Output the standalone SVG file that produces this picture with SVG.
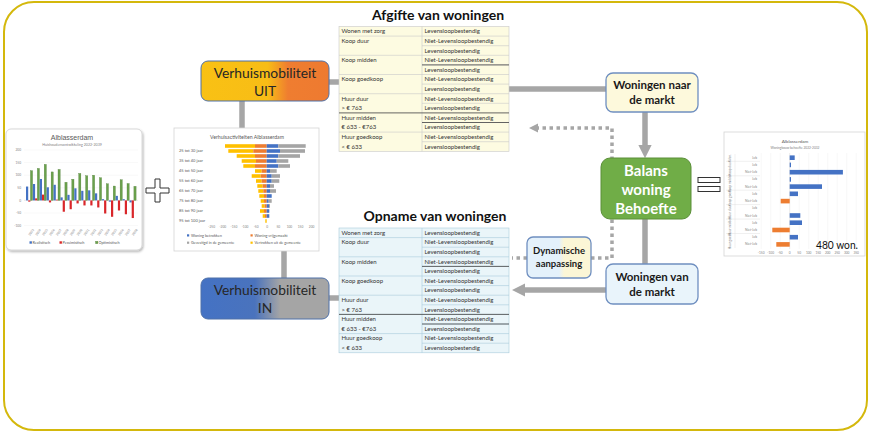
<svg xmlns="http://www.w3.org/2000/svg" width="872" height="434" viewBox="0 0 872 434">
<defs>
<style>
.t{font-family:Lato,"Open Sans","Liberation Sans",sans-serif}
.tb{font-family:Lato,"Open Sans","Liberation Sans",sans-serif;font-weight:bold}
.cell{font-family:Lato,"Open Sans","Liberation Sans",sans-serif;font-size:6px;fill:#333}
.conn{stroke:#a6a6a6;stroke-width:5.5;fill:none}
.dot{stroke:#a6a6a6;stroke-width:3.5;fill:none;stroke-dasharray:3.5 3.5}
.gl{stroke:#c9c9c9;stroke-width:0.6}
.glb{stroke:#a8cbdb;stroke-width:0.6}
.dk{stroke:#555;stroke-width:0.9}
.ax{font-family:Lato,"Liberation Sans",sans-serif;font-size:3.2px;fill:#7f7f7f}
.lg{font-family:Lato,"Liberation Sans",sans-serif;font-size:3.8px;fill:#595959}
.bB{fill:#4472c4}.bR{fill:#d9262a}.bG{fill:#6aa14c;stroke:#4e7a36;stroke-width:0.3}
.bO{fill:#ed7d31}.bY{fill:#ffc000}.bS{fill:#a5a5a5}
.frame{fill:#fff;stroke:#d4d4d4;stroke-width:0.8}
.node{stroke:#6f8fc0;stroke-width:1.3}
</style>
<linearGradient id="gUit" x1="0" y1="0" x2="1" y2="0">
<stop offset="0" stop-color="#f9c114"/><stop offset="0.52" stop-color="#f8bd16"/><stop offset="0.68" stop-color="#ef7d30"/><stop offset="1" stop-color="#ee7a30"/>
</linearGradient>
<linearGradient id="gIn" x1="0" y1="0" x2="1" y2="0">
<stop offset="0" stop-color="#4472c4"/><stop offset="0.42" stop-color="#4a73bd"/><stop offset="0.62" stop-color="#a5a5a5"/><stop offset="1" stop-color="#a5a5a5"/>
</linearGradient>
<linearGradient id="gDyn" x1="0" y1="0" x2="1" y2="0">
<stop offset="0" stop-color="#e4f1fb"/><stop offset="0.5" stop-color="#e4f1fb"/><stop offset="0.58" stop-color="#fbf6d6"/><stop offset="1" stop-color="#fbf6d6"/>
</linearGradient>
<marker id="ah" viewBox="0 0 10 10" refX="0" refY="5" markerWidth="2.4" markerHeight="2.6" orient="auto">
<path d="M0,0 L10,5 L0,10 z" fill="#a6a6a6"/>
</marker>
<marker id="ahs" viewBox="0 0 10 10" refX="0" refY="5" markerWidth="2.6" markerHeight="3" orient="auto">
<path d="M0,0 L10,5 L0,10 z" fill="#a6a6a6"/>
</marker>
<filter id="sh" x="-10%" y="-10%" width="120%" height="120%">
<feDropShadow dx="1" dy="1.5" stdDeviation="1.2" flood-color="#000" flood-opacity="0.3"/>
</filter>
</defs>

<rect x="4" y="2" width="863" height="428" rx="30" fill="#fff" stroke="#d4b80c" stroke-width="2"/>

<g id="connectors">
<line class="conn" x1="329" y1="82" x2="349" y2="82" marker-end="url(#ah)"/>
<line class="conn" x1="242" y1="101" x2="242" y2="128"/>
<line class="conn" x1="284" y1="251" x2="284" y2="278"/>
<line class="conn" x1="329" y1="298" x2="349" y2="298" marker-end="url(#ah)"/>
<line class="conn" x1="508" y1="89" x2="606" y2="89"/>
<line class="conn" x1="645" y1="112" x2="645" y2="145" marker-end="url(#ah)"/>
<line class="conn" x1="645" y1="219" x2="645" y2="264"/>
<line class="conn" x1="606" y1="290" x2="525" y2="290" marker-end="url(#ah)"/>
<path class="dot" d="M591,258 L612,258 L612,128 L538,128" marker-end="url(#ahs)"/>
<path class="dot" d="M527,258 L512,258"/>
</g>

<g id="chart-huishoudens">
<rect x="6" y="129" width="136" height="121" rx="5" fill="#fff" stroke="#cfcfcf" stroke-width="0.8" filter="url(#sh)"/>
<text x="72" y="139.5" font-family="'Liberation Sans',Arial,sans-serif" font-size="7" fill="#595959" text-anchor="middle">Alblasserdam</text>
<text class="t" x="72" y="145.5" font-size="3.6" fill="#7f7f7f" text-anchor="middle">Huishoudensontwikkeling 2022-2039</text>
<g stroke="#eeeeee" stroke-width="0.4">
<line x1="24" y1="150" x2="138" y2="150"/><line x1="24" y1="162.6" x2="138" y2="162.6"/><line x1="24" y1="175.2" x2="138" y2="175.2"/><line x1="24" y1="187.8" x2="138" y2="187.8"/><line x1="24" y1="213" x2="138" y2="213"/><line x1="24" y1="225.6" x2="138" y2="225.6"/>
</g>
<line x1="24" y1="200.4" x2="138" y2="200.4" stroke="#d0d0d0" stroke-width="0.4"/>
<g class="ax" text-anchor="end">
<text x="21" y="151.2">200</text><text x="21" y="163.8">150</text><text x="21" y="176.4">100</text><text x="21" y="189">50</text><text x="21" y="201.6">0</text><text x="21" y="214.2">-50</text><text x="21" y="226.8">-100</text>
</g>
<g>
<rect class="bB" x="26" y="186.54" width="2.2" height="13.86"/><rect class="bR" x="28.2" y="200.4" width="2.2" height="1.26"/><rect class="bG" x="30.4" y="170.66" width="2.2" height="29.74"/>
<rect class="bB" x="32.9" y="184.02" width="2.2" height="16.38"/><rect class="bR" x="35.1" y="198.38" width="2.2" height="2.02"/><rect class="bG" x="37.3" y="168.4" width="2.2" height="32"/>
<rect class="bB" x="39.8" y="178.98" width="2.2" height="21.42"/><rect class="bR" x="42" y="194.6" width="2.2" height="5.8"/><rect class="bG" x="44.2" y="164.36" width="2.2" height="36.04"/>
<rect class="bB" x="46.7" y="187.3" width="2.2" height="13.1"/><rect class="bR" x="48.9" y="200.4" width="2.2" height="2.02"/><rect class="bG" x="51.1" y="171.92" width="2.2" height="28.48"/>
<rect class="bB" x="53.6" y="184.78" width="2.2" height="15.62"/><rect class="bR" x="55.8" y="199.64" width="2.2" height="0.76"/><rect class="bG" x="58" y="169.4" width="2.2" height="31"/>
<rect class="bB" x="60.5" y="197.38" width="2.2" height="3.02"/><rect class="bR" x="62.7" y="200.4" width="2.2" height="11.34"/><rect class="bG" x="64.9" y="182.26" width="2.2" height="18.14"/>
<rect class="bB" x="67.4" y="194.86" width="2.2" height="5.54"/><rect class="bR" x="69.6" y="200.4" width="2.2" height="8.82"/><rect class="bG" x="71.8" y="179.23" width="2.2" height="21.17"/>
<rect class="bB" x="74.3" y="188.3" width="2.2" height="12.1"/><rect class="bR" x="76.5" y="200.4" width="2.2" height="3.02"/><rect class="bG" x="78.7" y="173.44" width="2.2" height="26.96"/>
<rect class="bB" x="81.2" y="190.82" width="2.2" height="9.58"/><rect class="bR" x="83.4" y="200.4" width="2.2" height="5.04"/><rect class="bG" x="85.6" y="175.7" width="2.2" height="24.7"/>
<rect class="bB" x="88.1" y="190.32" width="2.2" height="10.08"/><rect class="bR" x="90.3" y="200.4" width="2.2" height="5.04"/><rect class="bG" x="92.5" y="175.2" width="2.2" height="25.2"/>
<rect class="bB" x="95" y="193.34" width="2.2" height="7.06"/><rect class="bR" x="97.2" y="200.4" width="2.2" height="7.06"/><rect class="bG" x="99.4" y="177.72" width="2.2" height="22.68"/>
<rect class="bB" x="101.9" y="199.14" width="2.2" height="1.26"/><rect class="bR" x="104.1" y="200.4" width="2.2" height="13.1"/><rect class="bG" x="106.3" y="183.77" width="2.2" height="16.63"/>
<rect class="bB" x="108.8" y="200.4" width="2.2" height="1.26"/><rect class="bR" x="111" y="200.4" width="2.2" height="16.38"/><rect class="bG" x="113.2" y="186.04" width="2.2" height="14.36"/>
<rect class="bB" x="115.7" y="195.86" width="2.2" height="4.54"/><rect class="bR" x="117.9" y="200.4" width="2.2" height="10.08"/><rect class="bG" x="120.1" y="179.74" width="2.2" height="20.66"/>
<rect class="bB" x="122.6" y="199.14" width="2.2" height="1.26"/><rect class="bR" x="124.8" y="200.4" width="2.2" height="13.86"/><rect class="bG" x="127" y="183.52" width="2.2" height="16.88"/>
<rect class="bB" x="129.5" y="200.4" width="2.2" height="2.02"/><rect class="bR" x="131.7" y="200.4" width="2.2" height="17.64"/><rect class="bG" x="133.9" y="186.29" width="2.2" height="14.11"/>
</g>
<g class="ax" font-size="2.8">
<text transform="translate(30,236) rotate(-55)">2023</text><text transform="translate(36.9,236) rotate(-55)">2024</text><text transform="translate(43.8,236) rotate(-55)">2025</text><text transform="translate(50.7,236) rotate(-55)">2026</text><text transform="translate(57.6,236) rotate(-55)">2027</text><text transform="translate(64.5,236) rotate(-55)">2028</text><text transform="translate(71.4,236) rotate(-55)">2029</text><text transform="translate(78.3,236) rotate(-55)">2030</text><text transform="translate(85.2,236) rotate(-55)">2031</text><text transform="translate(92.1,236) rotate(-55)">2032</text><text transform="translate(99,236) rotate(-55)">2033</text><text transform="translate(105.9,236) rotate(-55)">2034</text><text transform="translate(112.8,236) rotate(-55)">2035</text><text transform="translate(119.7,236) rotate(-55)">2036</text><text transform="translate(126.6,236) rotate(-55)">2037</text><text transform="translate(133.5,236) rotate(-55)">2038</text>
</g>
<rect class="bB" x="29.5" y="241.3" width="2.4" height="2.4"/><text class="lg" x="32.5" y="244">Realistisch</text>
<rect class="bR" x="59.5" y="241.3" width="2.4" height="2.4"/><text class="lg" x="62.5" y="244">Pessimistisch</text>
<rect class="bG" x="95.5" y="241.3" width="2.4" height="2.4"/><text class="lg" x="98.5" y="244">Optimistisch</text>
</g>

<g id="plus">
<path d="M155,179 h5 v9 h9 v5 h-9 v9 h-5 v-9 h-9 v-5 h9 z" fill="#fff" stroke="#333" stroke-width="1"/>
</g>

<g id="chart-verhuis">
<rect class="frame" x="174" y="128" width="145" height="123"/>
<text class="t" x="247" y="138.5" font-size="5.2" fill="#595959" text-anchor="middle">Verhuisactiviteiten Alblasserdam</text>
<g class="t" font-size="4" fill="#595959">
<text x="179" y="152.4">25 tot 30 jaar</text><text x="179" y="162.4">35 tot 40 jaar</text><text x="179" y="172.4">45 tot 50 jaar</text><text x="179" y="182.4">55 tot 60 jaar</text><text x="179" y="192.4">65 tot 70 jaar</text><text x="179" y="202.4">75 tot 80 jaar</text><text x="179" y="212.4">85 tot 90 jaar</text><text x="179" y="222.4">95 tot 100 jaar</text>
</g>
<g>
<rect class="bY" x="225" y="144.2" width="30" height="3.6"/><rect class="bO" x="255" y="144.2" width="11.7" height="3.6"/><rect class="bB" x="266.7" y="144.2" width="11.6" height="3.6"/><rect class="bS" x="278.3" y="144.2" width="27.4" height="3.6"/>
<rect class="bY" x="228.3" y="149.2" width="25" height="3.6"/><rect class="bO" x="253.3" y="149.2" width="13.4" height="3.6"/><rect class="bB" x="266.7" y="149.2" width="13.3" height="3.6"/><rect class="bS" x="280" y="149.2" width="25" height="3.6"/>
<rect class="bY" x="236.7" y="154.2" width="18.3" height="3.6"/><rect class="bO" x="255" y="154.2" width="11.7" height="3.6"/><rect class="bB" x="266.7" y="154.2" width="11.6" height="3.6"/><rect class="bS" x="278.3" y="154.2" width="21.7" height="3.6"/>
<rect class="bY" x="241.7" y="159.2" width="14.3" height="3.6"/><rect class="bO" x="256" y="159.2" width="10.7" height="3.6"/><rect class="bB" x="266.7" y="159.2" width="10" height="3.6"/><rect class="bS" x="276.7" y="159.2" width="11.6" height="3.6"/>
<rect class="bY" x="243.3" y="164.2" width="11.7" height="3.6"/><rect class="bO" x="255" y="164.2" width="11.7" height="3.6"/><rect class="bB" x="266.7" y="164.2" width="11.6" height="3.6"/><rect class="bS" x="278.3" y="164.2" width="11.7" height="3.6"/>
<rect class="bY" x="255" y="169.2" width="6.7" height="3.6"/><rect class="bO" x="261.7" y="169.2" width="5" height="3.6"/><rect class="bB" x="266.7" y="169.2" width="3.3" height="3.6"/><rect class="bS" x="270" y="169.2" width="6.7" height="3.6"/>
<rect class="bY" x="251.7" y="174.2" width="9" height="3.6"/><rect class="bO" x="260.7" y="174.2" width="6" height="3.6"/><rect class="bB" x="266.7" y="174.2" width="5" height="3.6"/><rect class="bS" x="271.7" y="174.2" width="8.3" height="3.6"/>
<rect class="bY" x="256" y="179.2" width="5.7" height="3.6"/><rect class="bO" x="261.7" y="179.2" width="5" height="3.6"/><rect class="bB" x="266.7" y="179.2" width="5" height="3.6"/><rect class="bS" x="271.7" y="179.2" width="7.6" height="3.6"/>
<rect class="bY" x="257.3" y="184.2" width="5.4" height="3.6"/><rect class="bO" x="262.7" y="184.2" width="4" height="3.6"/><rect class="bB" x="266.7" y="184.2" width="3.3" height="3.6"/><rect class="bS" x="270" y="184.2" width="4" height="3.6"/>
<rect class="bY" x="258.3" y="189.2" width="5" height="3.6"/><rect class="bO" x="263.3" y="189.2" width="3.4" height="3.6"/><rect class="bB" x="266.7" y="189.2" width="3.3" height="3.6"/><rect class="bS" x="270" y="189.2" width="6" height="3.6"/>
<rect class="bY" x="259.3" y="194.2" width="4.7" height="3.6"/><rect class="bO" x="264" y="194.2" width="2.7" height="3.6"/><rect class="bB" x="266.7" y="194.2" width="5" height="3.6"/>
<rect class="bY" x="260.7" y="199.2" width="3.3" height="3.6"/><rect class="bO" x="264" y="199.2" width="2.7" height="3.6"/><rect class="bB" x="266.7" y="199.2" width="2" height="3.6"/><rect class="bS" x="268.7" y="199.2" width="3" height="3.6"/>
<rect class="bY" x="261.7" y="204.2" width="3" height="3.6"/><rect class="bO" x="264.7" y="204.2" width="2" height="3.6"/><rect class="bB" x="266.7" y="204.2" width="2.3" height="3.6"/><rect class="bS" x="269" y="204.2" width="1" height="3.6"/>
<rect class="bY" x="260" y="209.2" width="4" height="3.6"/><rect class="bO" x="264" y="209.2" width="2.7" height="3.6"/><rect class="bB" x="266.7" y="209.2" width="2.6" height="3.6"/>
<rect class="bY" x="262.7" y="214.2" width="2.3" height="3.6"/><rect class="bO" x="265" y="214.2" width="1.7" height="3.6"/><rect class="bB" x="266.7" y="214.2" width="2.6" height="3.6"/>
<rect class="bY" x="265.3" y="219.2" width="1.4" height="3.6"/>
</g>
<g class="ax" font-size="2.9" text-anchor="middle">
<text x="211.7" y="228">-250</text><text x="222.8" y="228">-200</text><text x="233.9" y="228">-150</text><text x="245" y="228">-100</text><text x="256.1" y="228">-50</text><text x="267.2" y="228">0</text><text x="278.3" y="228">50</text><text x="289.4" y="228">100</text><text x="300.5" y="228">150</text><text x="311.6" y="228">200</text>
</g>
<rect class="bB" x="187" y="234.3" width="2.2" height="2.2"/><text class="lg" x="191" y="236.6" font-size="3.6">Woning betrokken</text>
<rect class="bO" x="250.5" y="234.3" width="2.2" height="2.2"/><text class="lg" x="254.5" y="236.6" font-size="3.6">Woning vrijgemaakt</text>
<rect class="bS" x="187" y="241.6" width="2.2" height="2.2"/><text class="lg" x="191" y="243.9" font-size="3.6">Gevestigd in de gemeente</text>
<rect class="bY" x="250.5" y="241.6" width="2.2" height="2.2"/><text class="lg" x="254.5" y="243.9" font-size="3.6">Vertrokken uit de gemeente</text>
</g>

<g id="node-uit">
<rect x="201" y="61" width="128" height="40" rx="7" fill="url(#gUit)" stroke="#4f71a8" stroke-width="1"/>
<text class="t" x="265" y="78" font-size="13.8" fill="#262626" text-anchor="middle">Verhuismobiliteit</text>
<text class="t" x="265" y="96" font-size="13.8" fill="#262626" text-anchor="middle">UIT</text>
</g>

<g id="node-in">
<rect x="201" y="278" width="128" height="41" rx="7" fill="url(#gIn)" stroke="#4f71a8" stroke-width="1"/>
<text class="t" x="265" y="295" font-size="13.8" fill="#262626" text-anchor="middle">Verhuismobiliteit</text>
<text class="t" x="265" y="313" font-size="13.8" fill="#262626" text-anchor="middle">IN</text>
</g>

<g id="table-afgifte">
<text class="tb" x="438" y="19.5" font-size="14" fill="#111" text-anchor="middle">Afgifte van woningen</text>
<rect x="339" y="26.5" width="170" height="124.8" fill="#fdfbe1" stroke="#c9c9c9" stroke-width="0.6"/>
<line class="gl" x1="422" y1="26.5" x2="422" y2="151.3"/>
<g class="gl">
<line x1="339" y1="36.1" x2="509" y2="36.1"/><line x1="422" y1="45.7" x2="509" y2="45.7"/><line x1="339" y1="55.3" x2="509" y2="55.3"/><line x1="422" y1="64.9" x2="509" y2="64.9"/><line x1="339" y1="74.5" x2="509" y2="74.5"/><line x1="422" y1="84.1" x2="509" y2="84.1"/><line x1="339" y1="93.7" x2="509" y2="93.7"/><line x1="422" y1="103.3" x2="509" y2="103.3"/><line x1="422" y1="122.5" x2="509" y2="122.5"/><line x1="339" y1="132.1" x2="509" y2="132.1"/><line x1="422" y1="141.7" x2="509" y2="141.7"/>
</g>
<line class="dk" x1="422" y1="64.9" x2="509" y2="64.9"/>
<line class="dk" x1="339" y1="112.9" x2="509" y2="112.9"/>
<line class="dk" x1="422" y1="122.5" x2="509" y2="122.5"/>
<g class="cell">
<text x="341.5" y="33.3">Wonen met zorg</text><text x="424.5" y="33.3">Levensloopbestendig</text>
<text x="341.5" y="42.9">Koop duur</text><text x="424.5" y="42.9">Niet-Levensloopbestendig</text>
<text x="424.5" y="52.5">Levensloopbestendig</text>
<text x="341.5" y="62.1">Koop midden</text><text x="424.5" y="62.1">Niet-Levensloopbestendig</text>
<text x="424.5" y="71.7">Levensloopbestendig</text>
<text x="341.5" y="81.3">Koop goedkoop</text><text x="424.5" y="81.3">Niet-Levensloopbestendig</text>
<text x="424.5" y="90.9">Levensloopbestendig</text>
<text x="341.5" y="100.5">Huur duur</text><text x="424.5" y="100.5">Niet-Levensloopbestendig</text>
<text x="341.5" y="110.1">&gt; € 763</text><text x="424.5" y="110.1">Levensloopbestendig</text>
<text x="341.5" y="119.7">Huur midden</text><text x="424.5" y="119.7">Niet-Levensloopbestendig</text>
<text x="341.5" y="129.3">€ 633 - €763</text><text x="424.5" y="129.3">Levensloopbestendig</text>
<text x="341.5" y="138.9">Huur goedkoop</text><text x="424.5" y="138.9">Niet-Levensloopbestendig</text>
<text x="341.5" y="148.5">&lt; € 633</text><text x="424.5" y="148.5">Levensloopbestendig</text>
</g>
</g>

<g id="table-opname">
<text class="tb" x="435" y="221" font-size="14" fill="#111" text-anchor="middle">Opname van woningen</text>
<rect x="339" y="228" width="170" height="124.8" fill="#eaf5f9" stroke="#a8cbdb" stroke-width="0.6"/>
<line class="glb" x1="422" y1="228" x2="422" y2="352.8"/>
<g class="glb">
<line x1="339" y1="237.6" x2="509" y2="237.6"/><line x1="422" y1="247.2" x2="509" y2="247.2"/><line x1="339" y1="256.8" x2="509" y2="256.8"/><line x1="422" y1="266.4" x2="509" y2="266.4"/><line x1="339" y1="276" x2="509" y2="276"/><line x1="422" y1="285.6" x2="509" y2="285.6"/><line x1="339" y1="295.2" x2="509" y2="295.2"/><line x1="422" y1="304.8" x2="509" y2="304.8"/><line x1="339" y1="314.4" x2="509" y2="314.4"/><line x1="422" y1="324" x2="509" y2="324"/><line x1="339" y1="333.6" x2="509" y2="333.6"/><line x1="422" y1="343.2" x2="509" y2="343.2"/>
</g>
<line class="dk" x1="422" y1="266.4" x2="509" y2="266.4"/>
<line class="dk" x1="339" y1="314.4" x2="509" y2="314.4"/>
<line class="dk" x1="422" y1="324" x2="509" y2="324"/>
<g class="cell">
<text x="341.5" y="234.8">Wonen met zorg</text><text x="424.5" y="234.8">Levensloopbestendig</text>
<text x="341.5" y="244.4">Koop duur</text><text x="424.5" y="244.4">Niet-Levensloopbestendig</text>
<text x="424.5" y="254">Levensloopbestendig</text>
<text x="341.5" y="263.6">Koop midden</text><text x="424.5" y="263.6">Niet-Levensloopbestendig</text>
<text x="424.5" y="273.2">Levensloopbestendig</text>
<text x="341.5" y="282.8">Koop goedkoop</text><text x="424.5" y="282.8">Niet-Levensloopbestendig</text>
<text x="424.5" y="292.4">Levensloopbestendig</text>
<text x="341.5" y="302">Huur duur</text><text x="424.5" y="302">Niet-Levensloopbestendig</text>
<text x="341.5" y="311.6">&gt; € 763</text><text x="424.5" y="311.6">Levensloopbestendig</text>
<text x="341.5" y="321.2">Huur midden</text><text x="424.5" y="321.2">Niet-Levensloopbestendig</text>
<text x="341.5" y="330.8">€ 633 - €763</text><text x="424.5" y="330.8">Levensloopbestendig</text>
<text x="341.5" y="340.4">Huur goedkoop</text><text x="424.5" y="340.4">Niet-Levensloopbestendig</text>
<text x="341.5" y="350">&lt; € 633</text><text x="424.5" y="350">Levensloopbestendig</text>
</g>
</g>

<g id="node-naar">
<rect class="node" x="606" y="73" width="92" height="39" rx="7" fill="#fdf9dc"/>
<text class="tb" x="652" y="89" font-size="11.5" fill="#1a1a1a" text-anchor="middle">Woningen naar</text>
<text class="tb" x="652" y="104" font-size="11.5" fill="#1a1a1a" text-anchor="middle">de markt</text>
</g>

<g id="node-balans">
<rect x="601" y="158" width="90" height="61" rx="9" fill="#70ad47" stroke="#5a8f38" stroke-width="1"/>
<text class="tb" x="646" y="176" font-size="15" fill="#fff" text-anchor="middle">Balans</text>
<text class="tb" x="646" y="195" font-size="15" fill="#fff" text-anchor="middle">woning</text>
<text class="tb" x="646" y="214" font-size="15" fill="#fff" text-anchor="middle">Behoefte</text>
</g>

<g id="node-van">
<rect class="node" x="606" y="264" width="92" height="40" rx="7" fill="#e9f4fb"/>
<text class="tb" x="652" y="281" font-size="11.5" fill="#1a1a1a" text-anchor="middle">Woningen van</text>
<text class="tb" x="652" y="296" font-size="11.5" fill="#1a1a1a" text-anchor="middle">de markt</text>
</g>

<g id="node-dynamisch">
<rect class="node" x="527" y="237" width="64" height="41" rx="6" fill="url(#gDyn)"/>
<text class="tb" x="559" y="254" font-size="9.5" fill="#1a1a1a" text-anchor="middle">Dynamische</text>
<text class="tb" x="559" y="267" font-size="9.5" fill="#1a1a1a" text-anchor="middle">aanpassing</text>
</g>

<g id="equals">
<rect x="698" y="177.5" width="22" height="5" fill="#fff" stroke="#333" stroke-width="1"/>
<rect x="698" y="186.5" width="22" height="5" fill="#fff" stroke="#333" stroke-width="1"/>
</g>

<g id="chart-behoefte">
<rect class="frame" x="724" y="132" width="141" height="124"/>
<text class="t" x="795" y="142.5" font-size="4.6" fill="#595959" text-anchor="middle">Alblasserdam</text>
<text class="t" x="795" y="148.6" font-size="3.2" fill="#7f7f7f" text-anchor="middle">Woningbouw behoefte 2022-2032</text>
<g stroke="#eeeeee" stroke-width="0.4">
<line x1="761.2" y1="153" x2="761.2" y2="249"/><line x1="770.7" y1="153" x2="770.7" y2="249"/><line x1="780.2" y1="153" x2="780.2" y2="249"/><line x1="799.2" y1="153" x2="799.2" y2="249"/><line x1="808.7" y1="153" x2="808.7" y2="249"/><line x1="818.2" y1="153" x2="818.2" y2="249"/><line x1="827.7" y1="153" x2="827.7" y2="249"/><line x1="837.2" y1="153" x2="837.2" y2="249"/><line x1="846.7" y1="153" x2="846.7" y2="249"/><line x1="856.2" y1="153" x2="856.2" y2="249"/>
</g>
<line x1="789.7" y1="153" x2="789.7" y2="249" stroke="#d0d0d0" stroke-width="0.4"/>
<g stroke="#d9d9d9" stroke-width="0.4">
<line x1="726" y1="161.3" x2="760" y2="161.3"/><line x1="726" y1="175.8" x2="760" y2="175.8"/><line x1="726" y1="190.2" x2="760" y2="190.2"/><line x1="726" y1="204.6" x2="760" y2="204.6"/><line x1="726" y1="219.1" x2="760" y2="219.1"/><line x1="726" y1="233.5" x2="760" y2="233.5"/>
<line x1="735" y1="154" x2="735" y2="248"/>
</g>
<g class="ax" font-size="2.2">
<text transform="translate(731,158) rotate(-90)" text-anchor="middle">Won.</text>
<text transform="translate(731,168.5) rotate(-90)" text-anchor="middle">Koop duur</text>
<text transform="translate(731,183) rotate(-90)" text-anchor="middle">Koop midden</text>
<text transform="translate(731,197.4) rotate(-90)" text-anchor="middle">Koop goedk.</text>
<text transform="translate(731,211.8) rotate(-90)" text-anchor="middle">Huur duur</text>
<text transform="translate(731,226.3) rotate(-90)" text-anchor="middle">Huur midden</text>
<text transform="translate(731,240.7) rotate(-90)" text-anchor="middle">Huur goedk.</text>
</g>
<g class="ax" font-size="2.6" text-anchor="end">
<text x="757" y="158.7">Lvb</text><text x="757" y="165.9">Lvb</text><text x="757" y="173.2">Niet-Lvb</text><text x="757" y="180.4">Lvb</text><text x="757" y="187.6">Niet-Lvb</text><text x="757" y="194.8">Lvb</text><text x="757" y="202.1">Niet-Lvb</text><text x="757" y="209.3">Lvb</text><text x="757" y="216.5">Niet-Lvb</text><text x="757" y="223.7">Lvb</text><text x="757" y="231">Niet-Lvb</text><text x="757" y="238.2">Lvb</text><text x="757" y="245.4">Niet-Lvb</text>
</g>
<g>
<rect class="bB" x="789.7" y="155.4" width="5" height="4.6"/>
<rect class="bB" x="789.7" y="162.6" width="1.3" height="4.6"/>
<rect class="bB" x="789.7" y="169.9" width="53.2" height="4.6"/>
<rect class="bB" x="789.7" y="177.1" width="1.3" height="4.6"/>
<rect class="bB" x="789.7" y="184.3" width="32.3" height="4.6"/>
<rect class="bB" x="789.7" y="191.5" width="8.3" height="4.6"/>
<rect class="bO" x="780.7" y="198.8" width="9" height="4.6"/>
<rect class="bB" x="789.7" y="213.2" width="10.6" height="4.6"/>
<rect class="bB" x="789.7" y="220.4" width="12.3" height="4.6"/>
<rect class="bO" x="772.3" y="227.7" width="17.4" height="4.6"/>
<rect class="bB" x="789.7" y="234.9" width="8.3" height="4.6"/>
<rect class="bO" x="776.3" y="242.1" width="13.4" height="4.6"/>
</g>
<g class="ax" font-size="2.6" text-anchor="middle">
<text x="761.2" y="253.5">-150</text><text x="770.7" y="253.5">-100</text><text x="780.2" y="253.5">-50</text><text x="789.7" y="253.5">0</text><text x="799.2" y="253.5">50</text><text x="808.7" y="253.5">100</text><text x="818.2" y="253.5">150</text><text x="827.7" y="253.5">200</text><text x="837.2" y="253.5">250</text><text x="846.7" y="253.5">300</text><text x="856.2" y="253.5">350</text>
</g>
<text class="t" x="816" y="249" font-size="11" fill="#111" textLength="42" lengthAdjust="spacingAndGlyphs">480 won.</text>
</g>
</svg>
